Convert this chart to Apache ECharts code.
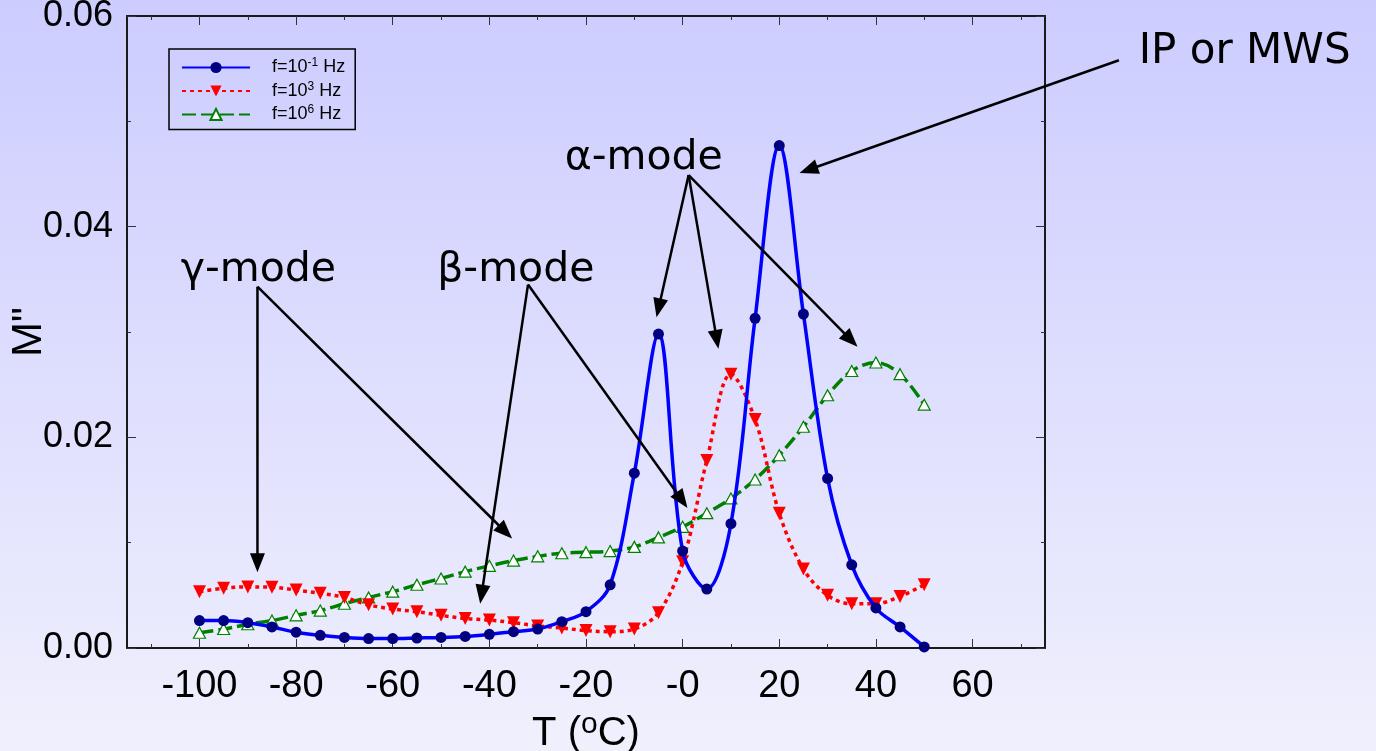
<!DOCTYPE html>
<html>
<head>
<meta charset="utf-8">
<script src="https://cdn.jsdelivr.net/npm/echarts@6/dist/echarts.min.js"></script>
<style>
html,body{margin:0;padding:0;width:1376px;height:751px;overflow:hidden;}
#chart{width:1376px;height:751px;}
</style>
</head>
<body>
<div id="chart"></div>
<script>
// ---------- data ----------
const temperatures = [-100,-95,-90,-85,-80,-75,-70,-65,-60,-55,-50,-45,-40,-35,-30,-25,-20,-15,-10,-5,0,5,10,15,20,25,30,35,40,45,50];
const mLow  = [0.0026,0.0026,0.0024,0.0020,0.0015,0.0012,0.0010,0.0009,0.0009,0.00095,0.0010,0.0011,0.0013,0.00155,0.0018,0.0025,0.00345,0.0060,0.0166,0.0298,0.0092,0.0056,0.0118,0.0313,0.0477,0.0317,0.0161,0.0079,0.0038,0.0020,0.0001];
const mMid  = [0.00535,0.00567,0.0058,0.00577,0.0055,0.0052,0.0048,0.0041,0.0037,0.00345,0.0031,0.0028,0.00265,0.0024,0.0021,0.0019,0.00165,0.00155,0.0018,0.00335,0.0082,0.0178,0.0260,0.0217,0.0128,0.0075,0.0050,0.0042,0.0042,0.0049,0.0060];
const mHigh = [0.00145,0.0018,0.00225,0.0026,0.0031,0.00355,0.0042,0.0048,0.00535,0.0060,0.0066,0.00725,0.0078,0.0083,0.0087,0.0090,0.0091,0.0092,0.0096,0.0105,0.0115,0.0128,0.0142,0.0160,0.0183,0.0210,0.0240,0.0263,0.0271,0.0260,0.0231];
const seriesNames = ['f=10^-1 Hz','f=10^3 Hz','f=10^6 Hz'];
const xMajorTicks = [-100,-80,-60,-40,-20,0,20,40,60];
const xMinorTicks = [-110,-90,-70,-50,-30,-10,10,30,50,70];
const xTickLabels = ['-100','-80','-60','-40','-20','-0','20','40','60'];
const yTickLabels = ['0.00','0.02','0.04','0.06'];

// annotations (data coordinates)
const annotationTexts = [
  {text:'IP or MWS', at:[94.4,0.0566], size:42},
  {text:'\u03b1-mode',   at:[-24.4,0.0465], size:41},
  {text:'\u03b2-mode',   at:[-50.8,0.0359], size:41},
  {text:'\u03b3-mode',   at:[-103.9,0.0359], size:41}
];
const annotationArrows = [
  {from:[90.3,0.0558], to:[24.2,0.0451]},
  {from:[1.24,0.0449], to:[-5.4,0.0314]},
  {from:[1.24,0.0449], to:[7.4,0.0284]},
  {from:[1.24,0.0449], to:[36.2,0.0286]},
  {from:[-32.0,0.0345], to:[-41.9,0.0042]},
  {from:[-32.0,0.0345], to:[1.0,0.0133]},
  {from:[-88.0,0.0343], to:[-88.0,0.0072]},
  {from:[-88.0,0.0343], to:[-35.3,0.0104]}
];

const pairs = ys => temperatures.map((t,i)=>[t, ys[i]]);

const chart = echarts.init(document.getElementById('chart'), null, {renderer:'canvas'});

const frameColor = '#1a1a1a';
const XMIN = -115, XMAX = 75;
const sansFont = "'Liberation Sans',Arial,sans-serif";

function xAxisDef(pos, major, withLabels){
  return {
    type:'value', min:XMIN, max:XMAX, position:pos,
    axisLine:{show:major, onZero:false, lineStyle:{color:frameColor,width:2}},
    axisTick:{show:true, inside:true, length: major?9:4, customValues: major?xMajorTicks:xMinorTicks, lineStyle:{color:'#333',width:1}},
    axisLabel: withLabels ? {
      show:true, customValues:xMajorTicks,
      formatter: v => xTickLabels[xMajorTicks.indexOf(v)],
      color:'#000', fontSize:38, margin:20,
      fontFamily:sansFont
    } : {show:false},
    splitLine:{show:false}
  };
}

const xAxes = [xAxisDef('bottom',true,true), xAxisDef('bottom',false,false), xAxisDef('top',true,false), xAxisDef('top',false,false)];
xAxes[0].name = '{n|T (}{s|o}{n|C)}';
xAxes[0].nameLocation = 'middle';
xAxes[0].nameGap = 62;
xAxes[0].nameMoveOverlap = false;
xAxes[0].nameTextStyle = {
  color:'#000',
  rich:{
    n:{fontSize:40, fontFamily:sansFont, color:'#000', lineHeight:44},
    s:{fontSize:30, fontFamily:sansFont, color:'#000', padding:[0,0,18,0]}
  }
};

function yAxisDef(pos, withLabels){
  return {
    type:'value', min:0, max:0.06, interval:0.02, position:pos,
    axisLine:{show:true, onZero:false, lineStyle:{color:frameColor,width:2}},
    axisTick:{show:true, inside:true, length:9, lineStyle:{color:'#333',width:1}},
    minorTick:{show:true, splitNumber:2, length:4, lineStyle:{color:'#333',width:1}},
    axisLabel: withLabels ? {show:true, color:'#000', fontSize:36, margin:14,
      fontFamily:sansFont,
      formatter: v => yTickLabels[Math.round(v/0.02)]} : {show:false},
    splitLine:{show:false}, minorSplitLine:{show:false}
  };
}
const yAxes = [yAxisDef('left',true), yAxisDef('right',false)];
yAxes[0].name = 'M"';
yAxes[0].nameLocation = 'middle';
yAxes[0].nameGap = 77;
yAxes[0].nameMoveOverlap = false;
yAxes[0].nameTextStyle = {color:'#000', fontSize:42, fontFamily:sansFont};

const option = {
  animation:false,
  backgroundColor:{type:'linear', x:0, y:0, x2:0, y2:1, colorStops:[{offset:0,color:'#ccccff'},{offset:1,color:'#f0f0fd'}]},
  grid:{left:127, right:331, top:16, bottom:103, containLabel:false, outerBoundsMode:'none'},
  xAxis:xAxes,
  yAxis:yAxes,
  legend:{
    orient:'vertical', left:169, top:49,
    padding:[8,10,6,12],
    itemWidth:68, itemHeight:14, itemGap:4,
    borderColor:'#000', borderWidth:1.5,
    data:seriesNames,
    formatter: name => {
      const m = name.match(/^f=10\^(-?\d+) Hz$/);
      return '{n|f=10}{s|' + m[1] + '}{n| Hz}';
    },
    textStyle:{
      padding:[0,0,0,17],
      rich:{
        n:{fontSize:18, fontFamily:sansFont, color:'#000', lineHeight:20},
        s:{fontSize:12, fontFamily:sansFont, color:'#000', padding:[0,0,9,0]}
      }
    }
  },
  series:[
    {
      name:seriesNames[0], type:'line', data:pairs(mLow), smooth:0.35,
      xAxisIndex:0, yAxisIndex:0,
      lineStyle:{color:'#0000ff', width:3.5},
      symbol:'circle', symbolSize:11,
      itemStyle:{color:'#000080', borderWidth:0},
      z:5
    },
    {
      name:seriesNames[1], type:'line', data:pairs(mMid), smooth:0.35,
      xAxisIndex:0, yAxisIndex:0,
      lineStyle:{color:'#ff0000', width:3.5, type:[4,4]},
      symbol:'triangle', symbolRotate:180, symbolSize:13,
      itemStyle:{color:'#ff0000', borderWidth:0},
      z:4
    },
    {
      name:seriesNames[2], type:'line', data:pairs(mHigh), smooth:0.35,
      xAxisIndex:0, yAxisIndex:0,
      lineStyle:{color:'#008000', width:3.5, type:[14,5]},
      symbol:'triangle', symbolSize:[12,11],
      itemStyle:{color:'#ffffff', borderColor:'#008000', borderWidth:1.2},
      z:3
    }
  ]
};
chart.setOption(option);

// ---------- annotations positioned through the axes' scales ----------
function px(p){ return chart.convertToPixel({xAxisIndex:0, yAxisIndex:0}, p); }
const graphics = [];
annotationTexts.forEach(a => {
  const p = px(a.at);
  graphics.push({
    type:'text', x:p[0], y:p[1], z:20,
    style:{text:a.text, fill:'#000', font:a.size + "px 'DejaVu Sans', Verdana, sans-serif", textAlign:'left', textVerticalAlign:'middle'}
  });
});
annotationArrows.forEach(a => {
  const p0 = px(a.from), p1 = px(a.to);
  const dx = p1[0]-p0[0], dy = p1[1]-p0[1];
  const len = Math.sqrt(dx*dx+dy*dy);
  const ux = dx/len, uy = dy/len;
  const hl = 19, hw = 7.5;
  const bx = p1[0]-ux*hl, by = p1[1]-uy*hl;
  graphics.push({
    type:'line', z:20,
    shape:{x1:p0[0], y1:p0[1], x2:bx+ux*2, y2:by+uy*2},
    style:{stroke:'#000', lineWidth:2.5}
  });
  graphics.push({
    type:'polygon', z:20,
    shape:{points:[[p1[0],p1[1]],[bx-uy*hw,by+ux*hw],[bx+uy*hw,by-ux*hw]]},
    style:{fill:'#000'}
  });
});
chart.setOption({graphic:graphics});
</script>
</body>
</html>
